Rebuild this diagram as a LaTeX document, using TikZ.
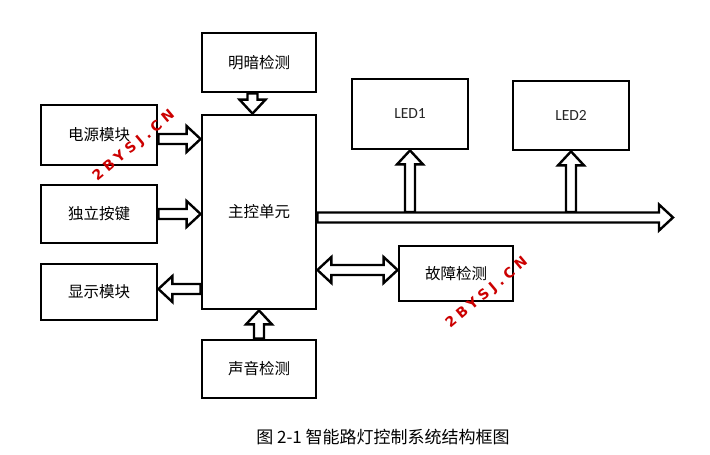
\documentclass[tikz,border=0pt]{standalone}
\usepackage{fontspec}
\setmainfont{Carlito}
\newfontfamily\cjk{Noto Sans CJK SC}
\newfontfamily\wmfont[LetterSpace=30]{DejaVu Sans Bold}
\usetikzlibrary{calc}
% block arrow: #1 from, #2 to, (#3,#4) unit direction
\newcommand\barrow[4]{%
\draw[arrowbody] ($(#1)+({-5*(#4)},{5*(#3)})$)
 -- ($(#2)+({-14*(#3)-5*(#4)},{-14*(#4)+5*(#3)})$)
 -- ($(#2)+({-14*(#3)-13*(#4)},{-14*(#4)+13*(#3)})$)
 -- (#2)
 -- ($(#2)+({-14*(#3)+13*(#4)},{-14*(#4)-13*(#3)})$)
 -- ($(#2)+({-14*(#3)+5*(#4)},{-14*(#4)-5*(#3)})$)
 -- ($(#1)+({5*(#4)},{-5*(#3)})$) -- cycle;}
% double-headed block arrow
\newcommand\bbarrow[4]{%
\draw[arrowbody] (#1)
 -- ($(#1)+({14*(#3)-13*(#4)},{14*(#4)+13*(#3)})$)
 -- ($(#1)+({14*(#3)-5*(#4)},{14*(#4)+5*(#3)})$)
 -- ($(#2)+({-14*(#3)-5*(#4)},{-14*(#4)+5*(#3)})$)
 -- ($(#2)+({-14*(#3)-13*(#4)},{-14*(#4)+13*(#3)})$)
 -- (#2)
 -- ($(#2)+({-14*(#3)+13*(#4)},{-14*(#4)-13*(#3)})$)
 -- ($(#2)+({-14*(#3)+5*(#4)},{-14*(#4)-5*(#3)})$)
 -- ($(#1)+({14*(#3)+5*(#4)},{14*(#4)-5*(#3)})$)
 -- ($(#1)+({14*(#3)+13*(#4)},{14*(#4)-13*(#3)})$)
 -- cycle;}
\begin{document}
\begin{tikzpicture}[x=1pt,y=-1pt,
  box/.style={draw, line width=2.8pt, inner sep=0pt, font=\cjk\fontsize{15.5}{18}\selectfont},
  ledbox/.style={box, font=\fontsize{15.5}{18}\selectfont, text=black!85},
  arrowbody/.style={draw, fill=white, line width=2.4pt, line join=miter},
  wm/.style={text=red!80!black, font=\wmfont\fontsize{14}{16}\selectfont, rotate=40}]
\useasboundingbox[fill=white] (0,0) rectangle (710,455);
\node[box, minimum width=114pt, minimum height=59pt] (light) at (259,62.5) {明暗检测};
\node[box, minimum width=116pt, minimum height=60pt] (power) at (99,135) {电源模块};
\node[box, minimum width=116pt, minimum height=58pt] (key) at (99,214) {独立按键};
\node[box, minimum width=116pt, minimum height=56pt] (disp) at (99,292) {显示模块};
\node[box, minimum width=114pt, minimum height=194pt] (main) at (259,212) {主控单元};
\node[box, minimum width=114pt, minimum height=58pt] (sound) at (259,369) {声音检测};
\node[ledbox, minimum width=116pt, minimum height=70pt] (led1) at (410,114) {LED1};
\node[ledbox, minimum width=116pt, minimum height=69pt] (led2) at (571,115.5) {LED2};
\node[box, minimum width=114pt, minimum height=55pt] (fault) at (456,273.5) {故障检测};
\coordinate (busend) at (673,217.5);
\coordinate (bustop) at (0,212);
\coordinate (pw) at (0,139);
\coordinate (ky) at (0,214);
\coordinate (dp) at (0,289);
\coordinate (ft) at (0,270);
\coordinate (lt) at (252.5,0);
\coordinate (sd) at (259,0);
% connector end points
\coordinate (pwA) at (power.east |- pw);  \coordinate (pwB) at (main.west |- pw);
\coordinate (kyA) at (key.east |- ky);    \coordinate (kyB) at (main.west |- ky);
\coordinate (dpA) at (main.west |- dp);   \coordinate (dpB) at (disp.east |- dp);
\coordinate (ltA) at (light.south -| lt); \coordinate (ltB) at (main.north -| lt);
\coordinate (sdA) at (sound.north -| sd); \coordinate (sdB) at (main.south -| sd);
\coordinate (ftA) at (main.east |- ft);   \coordinate (ftB) at (fault.west |- ft);
\coordinate (l1A) at (led1.south |- bustop); \coordinate (l1B) at (led1.south);
\coordinate (l2A) at (led2.south |- bustop); \coordinate (l2B) at (led2.south);
\coordinate (busA) at (main.east |- busend);
% arrows
\barrow{pwA}{pwB}{1}{0}
\barrow{kyA}{kyB}{1}{0}
\barrow{dpA}{dpB}{-1}{0}
\barrow{ltA}{ltB}{0}{1}
\barrow{sdA}{sdB}{0}{-1}
\bbarrow{ftA}{ftB}{1}{0}
\barrow{l1A}{l1B}{0}{-1}
\barrow{l2A}{l2B}{0}{-1}
\barrow{busA}{busend}{1}{0}
% watermark
\node[wm] (wm1) at (134,146) {2BYSJ.CN};
\node[wm] (wm2) at (487,293) {2BYSJ.CN};
% caption
\node[font=\cjk\fontsize{17}{19}\selectfont] (cap) at (383,437) {图 2-1 智能路灯控制系统结构框图};
\end{tikzpicture}
\end{document}
